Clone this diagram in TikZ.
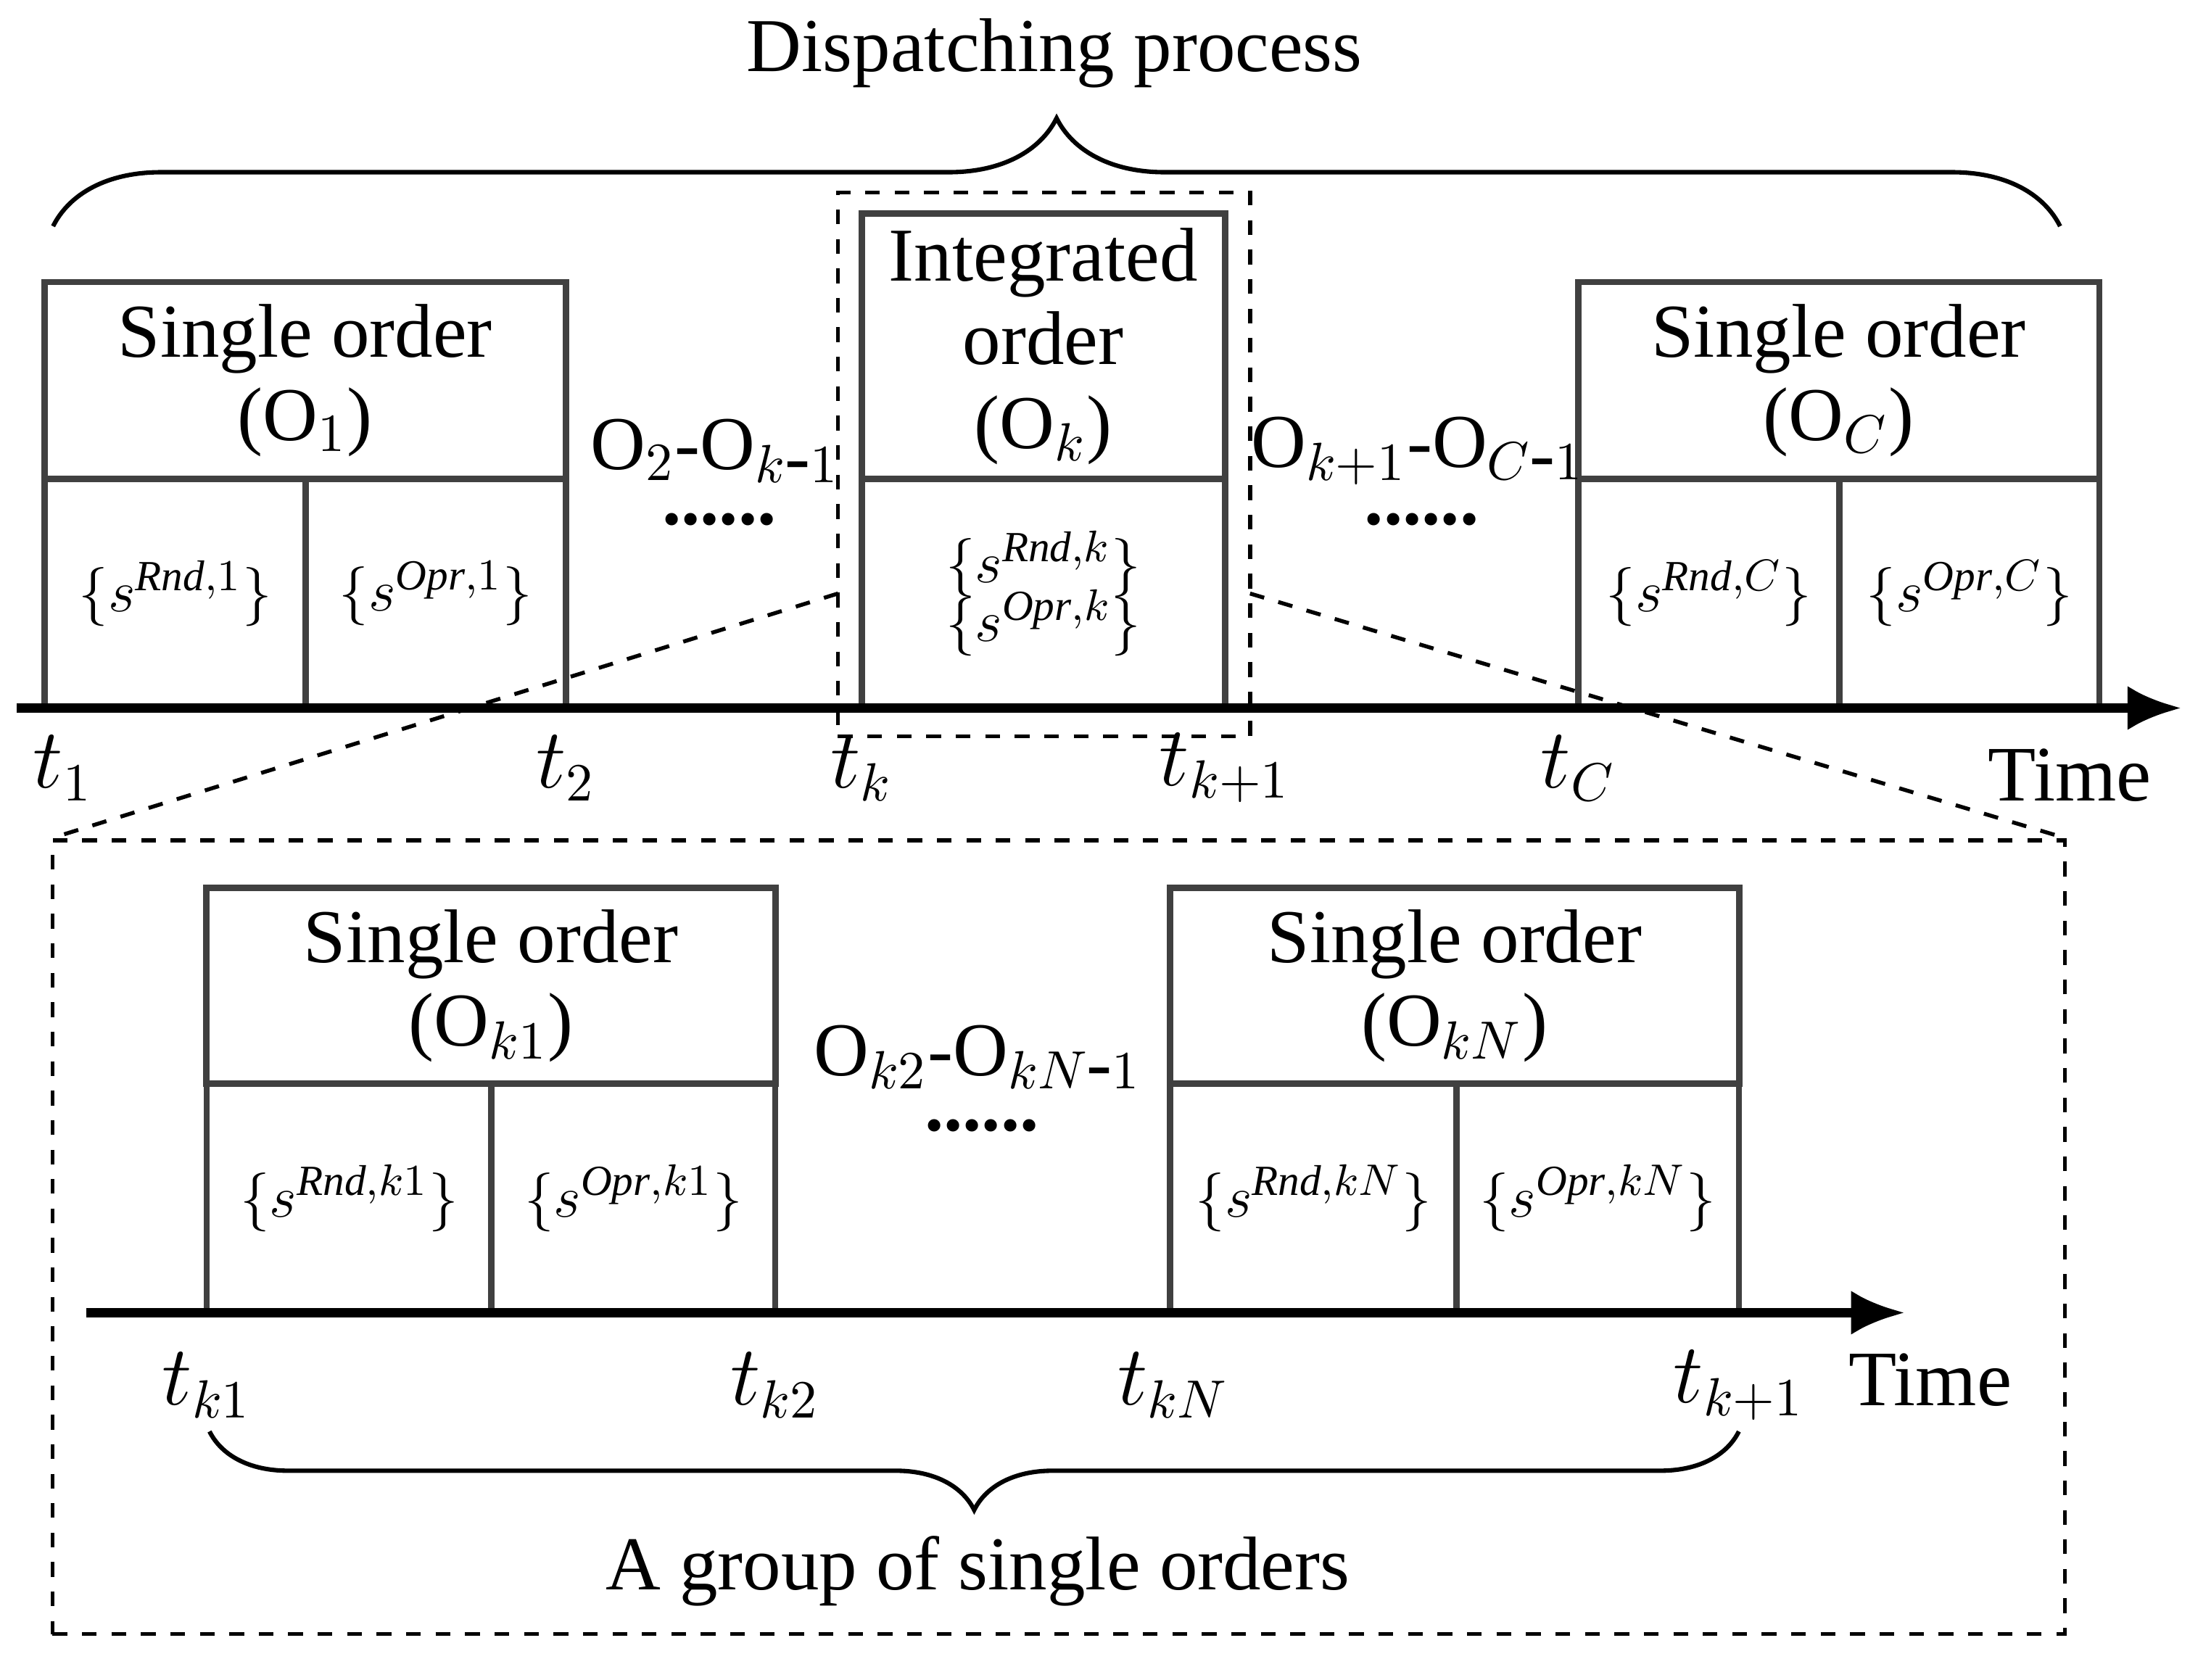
\documentclass[tikz,border=0pt]{standalone}
\usepackage{fontspec}
\setmainfont{Liberation Serif}
\usetikzlibrary{positioning,decorations.pathreplacing,arrows.meta}

\begin{document}
\begin{tikzpicture}[
    x=0.01cm, y=-0.01cm,
    font=\fontsize{15.5pt}{17pt}\selectfont,
    head/.style={
        rectangle,
        draw=black!75,
        line width=1.3pt,
        inner sep=0pt,
        align=center
    },
    cell/.style={
        rectangle,
        draw=black!75,
        line width=1.3pt,
        inner sep=0pt,
        align=center,
        font=\fontsize{12.5pt}{14pt}\selectfont
    },
    axis/.style={
        draw,
        -{Latex[length=11pt,width=9pt]},
        line width=1.8pt
    },
    zoom/.style={
        draw,
        dashed,
        line width=0.8pt
    },
    tick/.style={
        font=\fontsize{16pt}{18pt}\selectfont
    },
    brace/.style={
        draw,
        line width=0.9pt,
        decorate
    }
]
    \useasboundingbox (0,0) rectangle (1568,1203);

    % Top time line
    \coordinate (ax1) at (12,507);
    \coordinate (ax2) at (1562,507);

    % Order O1
    \node [head, minimum width=3.73cm, minimum height=1.41cm] (h1) at (218.5,272.5) {Single order\\(O$_1$)};
    \node [cell, minimum width=1.87cm, minimum height=1.64cm] (r1) at (125.5,425) {$\{s^{\mathit{Rnd},1}\}$};
    \node [cell, minimum width=1.86cm, minimum height=1.64cm] (p1) at (312,425) {$\{s^{\mathit{Opr},1}\}$};

    % Integrated order Ok
    \node [head, minimum width=2.6cm, minimum height=1.9cm] (hk) at (747,248) {Integrated\\order\\(O$_k$)};
    \node [cell, minimum width=2.6cm, minimum height=1.64cm] (rk) at (747,425) {$\{s^{\mathit{Rnd},k}\}$\\[-2pt]$\{s^{\mathit{Opr},k}\}$};

    % Order OC
    \node [head, minimum width=3.73cm, minimum height=1.41cm] (hc) at (1316.5,272.5) {Single order\\(O$_C$)};
    \node [cell, minimum width=1.87cm, minimum height=1.64cm] (rc) at (1223.5,425) {$\{s^{\mathit{Rnd},C}\}$};
    \node [cell, minimum width=1.86cm, minimum height=1.64cm] (pc) at (1410,425) {$\{s^{\mathit{Opr},C}\}$};

    \draw [axis] (ax1) -- (ax2);

    % Gaps
    \node (g1) at (512,323) {O$_2$-O$_{k\mbox{-}1}$};
    \node (d1) at (515,372) {\textbf{......}};
    \node (g2) at (1015,323) {O$_{k+1}$-O$_{C\mbox{-}1}$};
    \node (d2) at (1018,372) {\textbf{......}};

    % Ticks
    \node [tick] (t1) at (45,550) {$t_1$};
    \node [tick] (t2) at (405,550) {$t_2$};
    \node [tick] (tk) at (617,550) {$t_k$};
    \node [tick] (tk1) at (877,550) {$t_{k+1}$};
    \node [tick] (tc) at (1130,550) {$t_C$};
    \node [tick] (time1) at (1482,555) {Time};

    % Brace
    \draw [brace, decoration={brace, amplitude=22pt}] (38,162) -- (1475,162);
    \node (disp) at (755,38) {Dispatching process};

    % Zoom
    \node [zoom, minimum width=2.95cm, minimum height=3.89cm] (zk) at (747.5,332.5) {};
    \node [zoom, minimum width=14.4cm, minimum height=5.68cm] (zb) at (758,886) {};
    \draw [zoom] (600,425) -- (zb.north west);
    \draw [zoom] (895,425) -- (zb.north east);

    % Bottom time line
    \coordinate (bx1) at (62,940);
    \coordinate (bx2) at (1364,940);

    \node [head, minimum width=4.07cm, minimum height=1.4cm] (h11) at (351.5,706) {Single order\\(O$_{k1}$)};
    \node [cell, minimum width=2.04cm, minimum height=1.64cm] (r11) at (250,858) {$\{s^{\mathit{Rnd},k1}\}$};
    \node [cell, minimum width=2.03cm, minimum height=1.64cm] (p11) at (453.5,858) {$\{s^{\mathit{Opr},k1}\}$};

    \node [head, minimum width=4.07cm, minimum height=1.4cm] (hn) at (1041.5,706) {Single order\\(O$_{kN}$)};
    \node [cell, minimum width=2.05cm, minimum height=1.64cm] (rn) at (940.5,858) {$\{s^{\mathit{Rnd},kN}\}$};
    \node [cell, minimum width=2.02cm, minimum height=1.64cm] (pn) at (1144,858) {$\{s^{\mathit{Opr},kN}\}$};

    \draw [axis] (bx1) -- (bx2);

    \node (g3) at (700,757) {O$_{k2}$-O$_{kN\mbox{-}1}$};
    \node (d3) at (703,806) {\textbf{......}};

    \node [tick] (u1) at (148,992) {$t_{k1}$};
    \node [tick] (u2) at (555,992) {$t_{k2}$};
    \node [tick] (un) at (840,992) {$t_{kN}$};
    \node [tick] (uk) at (1245,992) {$t_{k+1}$};
    \node [tick] (time2) at (1382,988) {Time};

    \draw [brace, decoration={brace, mirror, amplitude=16pt}] (150,1025) -- (1245,1025);
    \node (grp) at (700,1125) {A group of single orders};
\end{tikzpicture}
\end{document}
